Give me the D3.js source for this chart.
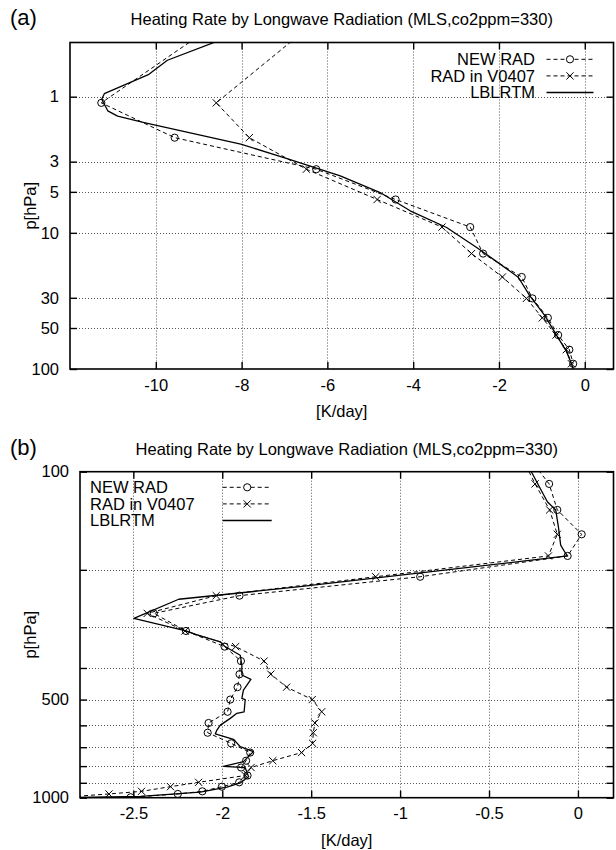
<!DOCTYPE html>
<html>
<head>
<meta charset="utf-8">
<script src="https://cdn.jsdelivr.net/npm/d3@7"></script>
<style>
  html, body { margin: 0; padding: 0; background: #fff; }
  svg { display: block; }
  text { font-family: "Liberation Sans", Arial, Helvetica, sans-serif; fill: #000; }
</style>
</head>
<body>
<svg id="chart" width="616" height="850"></svg>
<script>
// ---------------- DATA ----------------
const titleText = "Heating Rate by Longwave Radiation (MLS,co2ppm=330)";
const seriesNames = ["NEW RAD", "RAD in V0407", "LBLRTM"];
const xAxisLabel = "[K/day]";
const yAxisLabel = "p[hPa]";

// Panel (a): 0.4 - 100 hPa
const aXTicks = [-10, -8, -6, -4, -2, 0];
const aYTicks = [1, 3, 5, 10, 30, 50, 100];
const aYTickLabels = ["1", "3", "5", "10", "30", "50", "100"];
const aLevels = [0.25, 1.11, 2.0, 3.41, 5.69, 9.07, 14.2, 21.1, 30.3, 42.1, 56.3, 72.1, 91.5];
const aNewRad = [-8.28, -11.27, -9.56, -6.26, -4.41, -2.67, -2.37, -1.47, -1.22, -0.86, -0.62, -0.36, -0.27];
const aV0407  = [-6.08, -8.59, -7.82, -6.49, -4.84, -3.33, -2.64, -1.92, -1.36, -0.99, -0.67, -0.43, -0.31];
const aLblP = [0.33, 0.54, 0.685, 0.95, 1.045, 1.27, 1.39, 1.55, 2.23, 2.85, 3.81, 5.06, 6.89, 9.14, 12.8, 16.9, 21.2, 29.0, 40.5, 56.4, 74.0, 91.6, 100];
const aLblX = [-7.95, -9.73, -10.16, -11.20, -11.26, -11.12, -10.89, -10.27, -8.02, -6.94, -5.70, -4.77, -4.07, -3.22, -2.52, -1.98, -1.55, -1.28, -0.93, -0.66, -0.43, -0.31, -0.27];

// Panel (b): 100 - 1000 hPa
const bXTicks = [-2.5, -2, -1.5, -1, -0.5, 0];
const bXTickLabels = ["-2.5", "-2", "-1.5", "-1", "-0.5", "0"];
const bYTicks = [100, 200, 300, 400, 500, 600, 700, 800, 900, 1000];
const bYTickLabels = ["100", "", "", "", "500", "", "", "", "", "1000"];
const bLevels = [91.5, 109, 131, 155.6, 181.3, 210, 240, 272, 308, 344, 381, 418, 458, 500, 545, 590, 632, 681, 727, 770, 808, 855, 897, 925, 956, 974, 997];
const bNewRad = [-0.27, -0.162, -0.116, 0.021, -0.058, -0.887, -1.903, -2.385, -2.204, -1.987, -1.895, -1.903, -1.914, -1.955, -1.970, -2.077, -2.082, -1.950, -1.843, -1.866, -1.894, -1.858, -1.905, -2.002, -2.112, -2.250, -2.515];
const bV0407  = [-0.31, -0.241, -0.159, -0.116, -0.166, -1.137, -2.034, -2.422, -2.21, -1.925, -1.765, -1.727, -1.638, -1.494, -1.441, -1.479, -1.488, -1.492, -1.554, -1.716, -1.838, -1.871, -2.133, -2.291, -2.454, -2.637, -2.9];
const bLblP = [91.6, 100, 123.6, 131, 147.4, 167.9, 178.2, 181.3, 225.3, 246.2, 281.7, 308, 316.8, 332.6, 343, 365.5, 391.9, 420.4, 433.8, 467.5, 495.8, 500, 545, 551, 571, 599, 620, 637, 662, 697, 722, 775, 802, 809, 862, 901, 928, 961, 990, 1000];
const bLblX = [-0.31, -0.262, -0.172, -0.125, -0.110, -0.097, -0.069, -0.058, -1.563, -2.245, -2.497, -2.204, -2.142, -2.011, -1.987, -1.899, -1.89, -1.89, -1.839, -1.881, -1.89, -1.871, -1.877, -1.918, -1.955, -2.011, -2.03, -2.039, -1.937, -1.899, -1.825, -1.881, -1.993, -1.871, -1.852, -1.899, -1.974, -2.124, -2.46, -2.85];

// ---------------- DRAWING ----------------
const svg = d3.select("#chart");
const FONT = 16.5;

function drawPanel(cfg) {
  const { id, letter, left, right, top, bottom, xDomain, yDomain, xTicks, xTickLabels,
          yTicks, yTickLabels, levels, newRad, v0407, lblP, lblX, legend } = cfg;
  const x = d3.scaleLinear().domain(xDomain).range([left, right]);
  const y = d3.scaleLog().domain(yDomain).range([top, bottom]);
  const g = svg.append("g");

  g.append("defs").append("clipPath").attr("id", "clip" + id)
    .append("rect").attr("x", left).attr("y", top).attr("width", right - left).attr("height", bottom - top);

  // grid
  const grid = g.append("g").attr("stroke", "#555").attr("stroke-width", 1).attr("stroke-dasharray", "1,2");
  grid.selectAll("line.gx").data(xTicks).join("line")
    .attr("x1", d => Math.round(x(d)) + 0.5).attr("x2", d => Math.round(x(d)) + 0.5)
    .attr("y1", top).attr("y2", bottom);
  grid.selectAll("line.gy").data(yTicks.filter(d => d > yDomain[0] && d < yDomain[1])).join("line")
    .attr("y1", d => Math.round(y(d)) + 0.5).attr("y2", d => Math.round(y(d)) + 0.5)
    .attr("x1", left).attr("x2", right);

  // Axes via d3 axis generators (ticks inward, both sides)
  const tl = 7;
  const xAxisB = d3.axisBottom(x).tickValues(xTicks).tickSizeInner(-tl).tickSizeOuter(0)
    .tickFormat((d, i) => xTickLabels ? xTickLabels[i] : String(d)).tickPadding(10);
  const xAxisT = d3.axisTop(x).tickValues(xTicks).tickSizeInner(-tl).tickSizeOuter(0).tickFormat("");
  const yAxisL = d3.axisLeft(y).tickValues(yTicks).tickSizeInner(-tl).tickSizeOuter(0)
    .tickFormat((d, i) => yTickLabels[i]).tickPadding(11);
  const yAxisR = d3.axisRight(y).tickValues(yTicks).tickSizeInner(-tl).tickSizeOuter(0).tickFormat("");

  const styleAxis = sel => {
    sel.select(".domain").remove();
    sel.selectAll(".tick line").attr("stroke", "#000").attr("stroke-width", 1.4);
    sel.selectAll(".tick text").attr("font-size", FONT).attr("font-family", "Liberation Sans, Arial, sans-serif").attr("fill", "#000");
  };
  g.append("g").attr("transform", `translate(0,${bottom})`).call(xAxisB).call(styleAxis);
  g.append("g").attr("transform", `translate(0,${top})`).call(xAxisT).call(styleAxis);
  g.append("g").attr("transform", `translate(${left},0)`).call(yAxisL).call(styleAxis);
  g.append("g").attr("transform", `translate(${right},0)`).call(yAxisR).call(styleAxis);

  // data
  const data = g.append("g").attr("clip-path", `url(#clip${id})`);
  const pts = (xs, ps) => xs.map((v, i) => [x(v), y(ps[i])]);
  const line = d3.line();
  data.append("path").attr("d", line(pts(newRad, levels))).attr("fill", "none")
    .attr("stroke", "#000").attr("stroke-width", 1).attr("stroke-dasharray", "4,3");
  data.append("path").attr("d", line(pts(v0407, levels))).attr("fill", "none")
    .attr("stroke", "#000").attr("stroke-width", 1).attr("stroke-dasharray", "4,3");
  data.append("path").attr("d", line(pts(lblX, lblP))).attr("fill", "none")
    .attr("stroke", "#000").attr("stroke-width", 1.3).attr("stroke-linejoin", "round");

  data.selectAll("circle.m").data(pts(newRad, levels)).join("circle")
    .attr("cx", d => d[0]).attr("cy", d => d[1]).attr("r", 3.6)
    .attr("fill", "none").attr("stroke", "#000").attr("stroke-width", 1);
  const cross = (sel, s) => sel.attr("d", d => `M${d[0]-s},${d[1]-s}L${d[0]+s},${d[1]+s}M${d[0]-s},${d[1]+s}L${d[0]+s},${d[1]-s}`)
    .attr("stroke", "#000").attr("stroke-width", 1).attr("fill", "none");
  data.selectAll("path.x").data(pts(v0407, levels)).join("path").call(cross, 3.6);

  // frame
  g.append("rect").attr("x", left).attr("y", top).attr("width", right - left).attr("height", bottom - top)
    .attr("fill", "none").attr("stroke", "#000").attr("stroke-width", 1.6);

  // legend
  const lg = g.append("g");
  seriesNames.forEach((name, i) => {
    const cy = legend.y0 + i * legend.dy;
    lg.append("text").attr("x", legend.textX).attr("y", cy).attr("dy", "0.36em")
      .attr("text-anchor", legend.anchor).attr("font-size", FONT).text(name);
    lg.append("line").attr("x1", legend.s1).attr("x2", legend.s2).attr("y1", cy).attr("y2", cy)
      .attr("stroke", "#000").attr("stroke-width", i === 2 ? 1.3 : 1)
      .attr("stroke-dasharray", i === 2 ? null : "4,3");
    const mx = (legend.s1 + legend.s2) / 2;
    if (i === 0) {
      lg.append("circle").attr("cx", mx).attr("cy", cy).attr("r", 3.6).attr("fill", "#fff").attr("stroke", "#000");
    } else if (i === 1) {
      lg.append("path").datum([mx, cy]).call(cross, 3.6);
    }
  });

  // titles & labels
  const cx = (left + right) / 2;
  g.append("text").attr("x", cx).attr("y", top - 23).attr("dy", "0.36em").attr("text-anchor", "middle")
    .attr("font-size", FONT).text(titleText);
  g.append("text").attr("x", 10).attr("y", top - 25).attr("dy", "0.36em").attr("font-size", 22).text(letter);
  g.append("text").attr("x", cx).attr("y", bottom + 42.5).attr("dy", "0.36em").attr("text-anchor", "middle")
    .attr("font-size", FONT).text(xAxisLabel);
  g.append("text").attr("transform", `translate(36,${(top + bottom) / 2}) rotate(-90)`)
    .attr("text-anchor", "middle").attr("font-size", FONT).text(yAxisLabel);
}

drawPanel({
  id: "a", letter: "(a)", left: 70, right: 613.5, top: 42.5, bottom: 369,
  xDomain: [-12, 0.67], yDomain: [0.4, 100],
  xTicks: aXTicks, xTickLabels: null, yTicks: aYTicks, yTickLabels: aYTickLabels,
  levels: aLevels, newRad: aNewRad, v0407: aV0407, lblP: aLblP, lblX: aLblX,
  legend: { anchor: "end", textX: 535, y0: 59.3, dy: 16.6, s1: 546.5, s2: 593.5 }
});

drawPanel({
  id: "b", letter: "(b)", left: 80, right: 613.5, top: 471.7, bottom: 797.7,
  xDomain: [-2.8, 0.2], yDomain: [100, 1000],
  xTicks: bXTicks, xTickLabels: bXTickLabels, yTicks: bYTicks, yTickLabels: bYTickLabels,
  levels: bLevels, newRad: bNewRad, v0407: bV0407, lblP: bLblP, lblX: bLblX,
  legend: { anchor: "start", textX: 90, y0: 487.3, dy: 16.6, s1: 222.7, s2: 271.7 }
});
</script>
</body>
</html>
